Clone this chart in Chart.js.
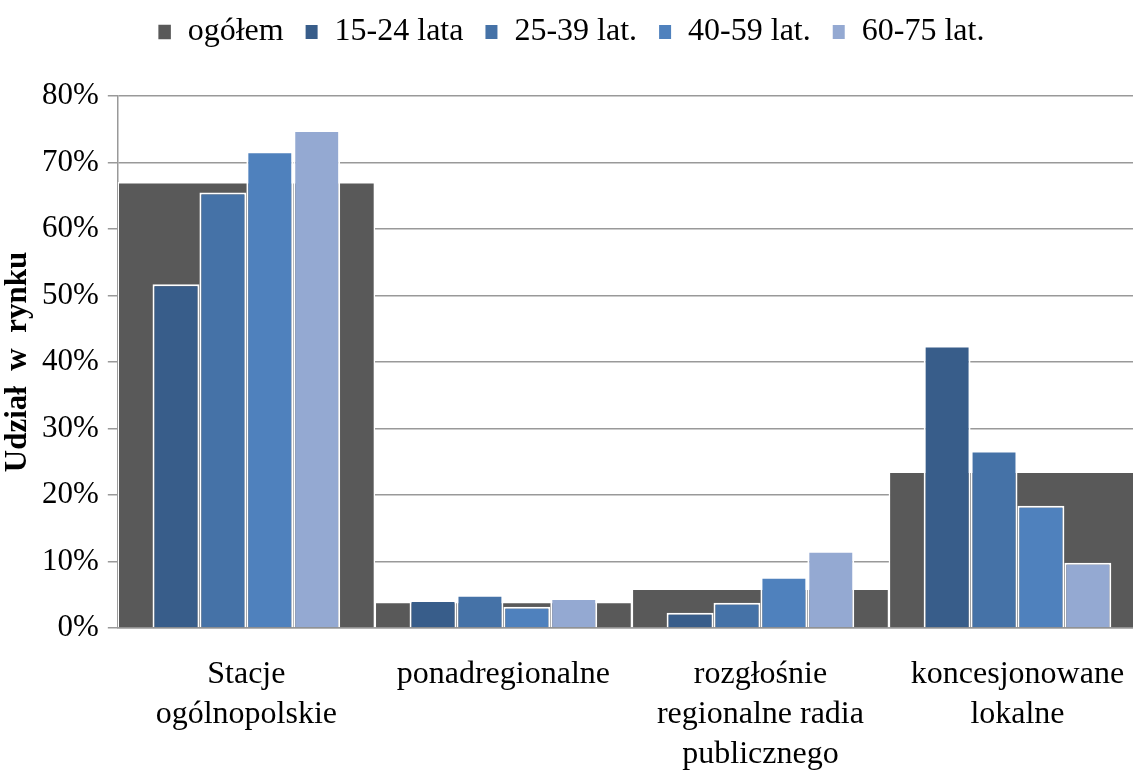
<!DOCTYPE html>
<html>
<head>
<meta charset="utf-8">
<script src="https://cdn.jsdelivr.net/npm/chart.js@4/dist/chart.umd.min.js"></script>
<style>
  html, body { margin: 0; padding: 0; background: #fff; overflow: hidden; }
  #wrap { width: 1150px; height: 794px; }
</style>
</head>
<body>
<div id="wrap"><canvas id="marketChart" width="1150" height="794"></canvas></div>
<script>
const categories = [
  ['Stacje', 'ogólnopolskie'],
  'ponadregionalne',
  ['rozgłośnie', 'regionalne radia', 'publicznego'],
  ['koncesjonowane', 'lokalne']
];
const seriesNames = ['ogółem', '15-24 lata', '25-39 lat.', '40-59 lat.', '60-75 lat.'];
const ogolem = [67, 3.9, 5.9, 23.5];
const age1524 = [51.7, 4.2, 2.3, 42.5];
const age2539 = [65.5, 5.0, 3.8, 26.7];
const age4059 = [71.7, 3.2, 7.7, 18.4];
const age6075 = [74.9, 4.5, 11.6, 9.8];
const yTicks = [0, 10, 20, 30, 40, 50, 60, 70, 80];

const serif = '"Liberation Serif", "Times New Roman", serif';

// push the plot area down below the legend
const legendSpace = {
  id: 'legendSpace',
  beforeInit(chart) {
    const fit = chart.legend.fit;
    chart.legend.fit = function() {
      fit.bind(chart.legend)();
      this.height += 38;
    };
  }
};

document.addEventListener('DOMContentLoaded', function() {
  const ctx = document.getElementById('marketChart').getContext('2d');
  const groupBar = {
    categoryPercentage: 0.73,
    barPercentage: 1,
    borderColor: '#ffffff',
    borderWidth: 2,
    order: 0
  };
  const marketChart = new Chart(ctx, {
    type: 'bar',
    data: {
      labels: categories,
      datasets: [
        {
          label: seriesNames[0],
          data: ogolem,
          backgroundColor: '#595959',
          borderColor: '#ffffff',
          borderWidth: 1.5,
          grouped: false,
          categoryPercentage: 1,
          barPercentage: 1,
          order: 1
        },
        Object.assign({ label: seriesNames[1], data: age1524, backgroundColor: '#385d8a' }, groupBar),
        Object.assign({ label: seriesNames[2], data: age2539, backgroundColor: '#4572a7' }, groupBar),
        Object.assign({ label: seriesNames[3], data: age4059, backgroundColor: '#4f81bd' }, groupBar),
        Object.assign({ label: seriesNames[4], data: age6075, backgroundColor: '#94a9d2' }, groupBar)
      ]
    },
    options: {
      responsive: false,
      animation: false,
      devicePixelRatio: 1,
      layout: { padding: { left: -4, right: 4, top: -5, bottom: 0 } },
      scales: {
        x: {
          grid: { display: false },
          border: { display: true, color: '#999999', width: 1.5 },
          ticks: {
            color: '#000',
            maxRotation: 0,
            autoSkip: false,
            padding: 19,
            font: { family: serif, size: 32, lineHeight: 1.25 }
          }
        },
        y: {
          min: 0,
          max: 80,
          afterBuildTicks: function(axis) {
            axis.ticks = yTicks.map(v => ({ value: v }));
          },
          grid: { color: '#999999', lineWidth: 1.5, tickLength: 10, tickColor: '#999999' },
          border: { display: true, color: '#999999', width: 1.5 },
          ticks: {
            color: '#000',
            padding: 9,
            font: { family: serif, size: 31 },
            callback: function(v) { return v + '%'; }
          },
          title: {
            display: true,
            text: 'Udział  w  rynku',
            color: '#000',
            padding: { top: 6, bottom: 0 },
            font: { family: serif, size: 31, weight: 'bold', lineHeight: 1 }
          }
        }
      },
      plugins: {
        legend: {
          position: 'top',
          labels: {
            color: '#000',
            boxWidth: 14,
            boxHeight: 16,
            padding: 21,
            font: { family: serif, size: 32 },
            sort: (a, b) => a.datasetIndex - b.datasetIndex
          }
        },
        tooltip: { enabled: false }
      }
    },
    plugins: [legendSpace]
  });
});
</script>
</body>
</html>
